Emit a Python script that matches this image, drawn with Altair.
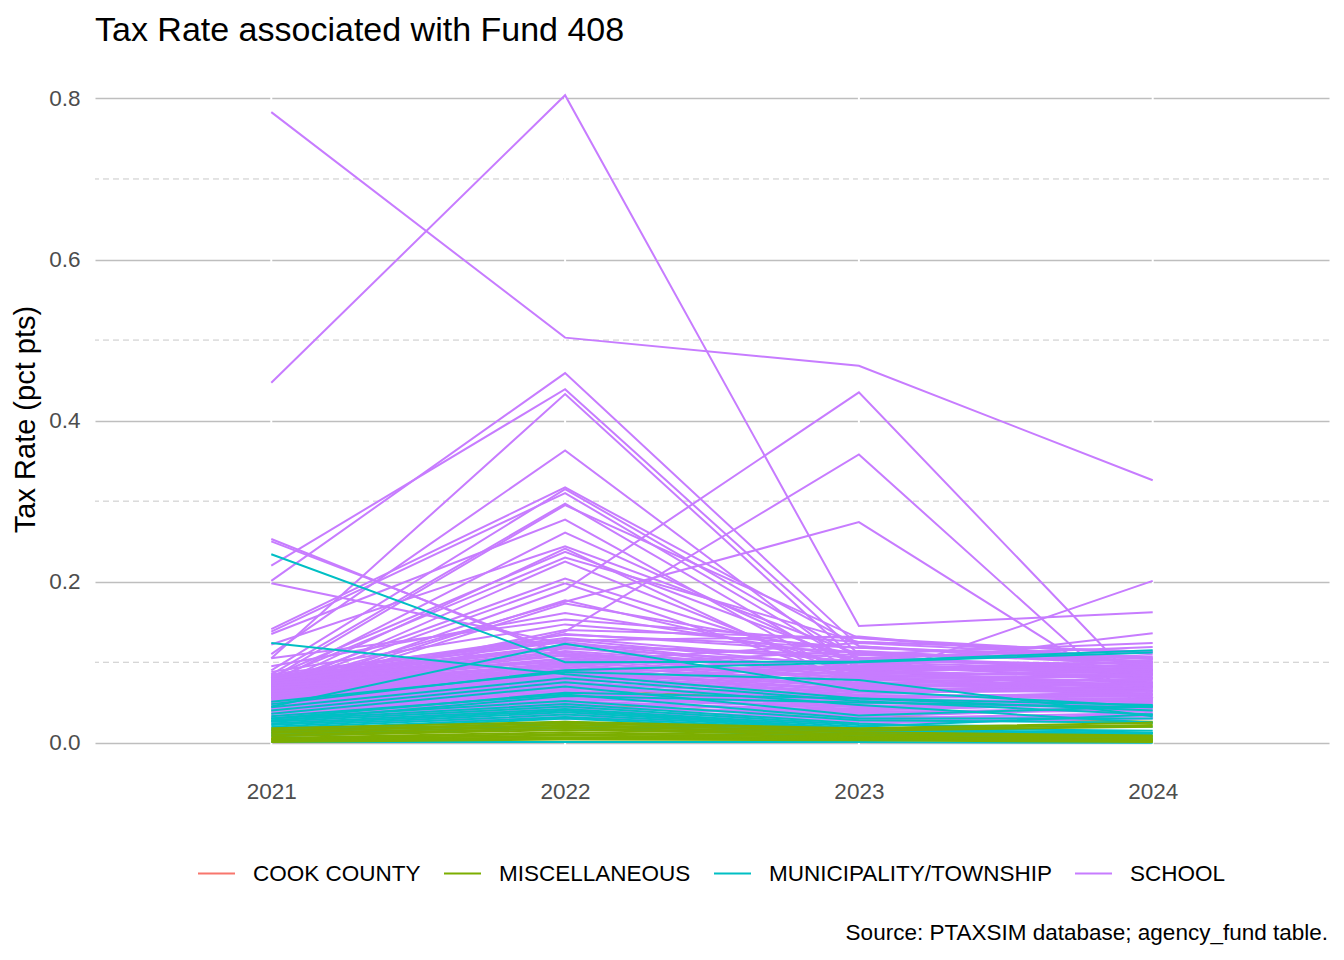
import altair as alt
import pandas as pd

YEARS = ["2021", "2022", "2023", "2024"]
AGENCY_TYPES = ["COOK COUNTY", "MISCELLANEOUS", "MUNICIPALITY/TOWNSHIP", "SCHOOL"]
COLORS = ["#F8766D", "#7CAE00", "#00BFC4", "#C77CFF"]

# one row per agency: tax rate in 2021, 2022, 2023, 2024
COOK_COUNTY = [
    [0.004, 0.006, 0.005, 0.004],
]

MISCELLANEOUS = [
    [0.018, 0.026, 0.018, 0.025],
    [0.016, 0.024, 0.017, 0.022],
    [0.014, 0.022, 0.015, 0.020],
    [0.012, 0.020, 0.013, 0.009],
    [0.010, 0.018, 0.011, 0.008],
    [0.008, 0.016, 0.010, 0.007],
    [0.006, 0.013, 0.008, 0.005],
    [0.005, 0.011, 0.007, 0.004],
    [0.004, 0.009, 0.006, 0.003],
    [0.003, 0.007, 0.005, 0.003],
    [0.002, 0.005, 0.004, 0.002],
    [0.001, 0.004, 0.003, 0.001],
    [0.056, 0.068, 0.050, 0.044],
    [0.040, 0.048, 0.033, 0.026],
]

MUNICIPALITY = [
    [0.234, 0.100, 0.101, 0.115],
    [0.124, 0.085, 0.055, 0.040],
    [0.045, 0.123, 0.065, 0.045],
    [0.051, 0.088, 0.078, 0.033],
    [0.048, 0.090, 0.100, 0.112],
    [0.044, 0.080, 0.052, 0.035],
    [0.040, 0.075, 0.047, 0.025],
    [0.036, 0.070, 0.034, 0.045],
    [0.033, 0.060, 0.030, 0.030],
    [0.030, 0.052, 0.028, 0.025],
    [0.028, 0.048, 0.024, 0.012],
    [0.026, 0.045, 0.022, 0.020],
    [0.024, 0.042, 0.020, 0.035],
    [0.022, 0.040, 0.018, 0.015],
    [0.020, 0.038, 0.017, 0.012],
    [0.018, 0.035, 0.016, 0.010],
    [0.016, 0.032, 0.015, 0.008],
    [0.014, 0.030, 0.013, 0.012],
    [0.012, 0.026, 0.012, 0.006],
    [0.010, 0.022, 0.010, 0.004],
    [0.008, 0.018, 0.008, 0.002],
    [0.001, 0.001, 0.001, 0.000],
    [0.030, 0.062, 0.055, 0.047],
    [0.027, 0.058, 0.050, 0.044],
]

SCHOOL = [
    [0.783, 0.503, 0.468, 0.326],
    [0.447, 0.804, 0.145, 0.162],
    [0.201, 0.459, 0.120, 0.095],
    [0.220, 0.439, 0.110, 0.085],
    [0.105, 0.433, 0.100, 0.075],
    [0.110, 0.363, 0.090, 0.070],
    [0.253, 0.107, 0.080, 0.060],
    [0.250, 0.110, 0.090, 0.065],
    [0.198, 0.123, 0.085, 0.070],
    [0.141, 0.317, 0.120, 0.100],
    [0.090, 0.315, 0.105, 0.090],
    [0.138, 0.310, 0.095, 0.080],
    [0.085, 0.297, 0.085, 0.075],
    [0.080, 0.295, 0.130, 0.110],
    [0.135, 0.277, 0.075, 0.065],
    [0.075, 0.261, 0.095, 0.085],
    [0.122, 0.244, 0.110, 0.105],
    [0.070, 0.241, 0.070, 0.060],
    [0.082, 0.237, 0.100, 0.090],
    [0.078, 0.230, 0.125, 0.113],
    [0.065, 0.225, 0.080, 0.070],
    [0.060, 0.190, 0.435, 0.055],
    [0.050, 0.138, 0.358, 0.030],
    [0.070, 0.175, 0.274, 0.045],
    [0.072, 0.204, 0.090, 0.080],
    [0.068, 0.198, 0.076, 0.201],
    [0.062, 0.177, 0.093, 0.136],
    [0.058, 0.173, 0.110, 0.124],
    [0.095, 0.161, 0.105, 0.119],
    [0.105, 0.153, 0.125, 0.113],
    [0.088, 0.147, 0.118, 0.107],
    [0.066, 0.140, 0.130, 0.104],
    [0.073, 0.135, 0.112, 0.100],
    [0.085, 0.130, 0.101, 0.098],
    [0.083, 0.128, 0.094, 0.092],
    [0.081, 0.125, 0.088, 0.096],
    [0.080, 0.121, 0.106, 0.094],
    [0.079, 0.119, 0.082, 0.090],
    [0.078, 0.117, 0.098, 0.087],
    [0.077, 0.114, 0.090, 0.101],
    [0.076, 0.112, 0.086, 0.085],
    [0.075, 0.110, 0.079, 0.083],
    [0.074, 0.108, 0.092, 0.088],
    [0.073, 0.105, 0.084, 0.081],
    [0.072, 0.104, 0.077, 0.079],
    [0.071, 0.102, 0.073, 0.086],
    [0.070, 0.099, 0.081, 0.077],
    [0.069, 0.098, 0.070, 0.075],
    [0.068, 0.096, 0.075, 0.073],
    [0.067, 0.094, 0.068, 0.080],
    [0.066, 0.092, 0.072, 0.071],
    [0.065, 0.090, 0.066, 0.069],
    [0.064, 0.088, 0.064, 0.074],
    [0.063, 0.086, 0.071, 0.067],
    [0.062, 0.085, 0.062, 0.065],
    [0.061, 0.083, 0.060, 0.072],
    [0.060, 0.081, 0.067, 0.063],
    [0.059, 0.080, 0.058, 0.061],
    [0.058, 0.078, 0.063, 0.068],
    [0.057, 0.076, 0.056, 0.059],
    [0.056, 0.074, 0.059, 0.057],
    [0.055, 0.072, 0.054, 0.064],
    [0.054, 0.070, 0.057, 0.055],
    [0.053, 0.069, 0.052, 0.053],
    [0.052, 0.067, 0.055, 0.060],
    [0.051, 0.065, 0.050, 0.051],
    [0.050, 0.063, 0.048, 0.056],
    [0.049, 0.061, 0.046, 0.049],
    [0.048, 0.060, 0.053, 0.052],
    [0.047, 0.058, 0.044, 0.047],
    [0.046, 0.056, 0.042, 0.054],
    [0.045, 0.054, 0.045, 0.045],
    [0.044, 0.052, 0.040, 0.050],
    [0.043, 0.050, 0.038, 0.043],
    [0.042, 0.048, 0.041, 0.048],
    [0.040, 0.046, 0.036, 0.041],
    [0.038, 0.044, 0.034, 0.046],
    [0.036, 0.042, 0.039, 0.039],
    [0.034, 0.040, 0.032, 0.044],
    [0.032, 0.038, 0.030, 0.037],
    [0.030, 0.035, 0.028, 0.035],
    [0.027, 0.032, 0.026, 0.033],
    [0.024, 0.030, 0.024, 0.030],
    [0.084, 0.100, 0.124, 0.106],
    [0.082, 0.134, 0.118, 0.104],
    [0.079, 0.127, 0.132, 0.099],
    [0.076, 0.121, 0.109, 0.102],
    [0.074, 0.096, 0.114, 0.097],
    [0.071, 0.090, 0.103, 0.093],
    [0.068, 0.087, 0.096, 0.089],
    [0.064, 0.080, 0.094, 0.091],
    [0.061, 0.078, 0.087, 0.084],
]

Y_TICKS = [0.0, 0.2, 0.4, 0.6, 0.8]
Y_MINOR = [0.1, 0.3, 0.5, 0.7]
TITLE = "Tax Rate associated with Fund 408"
Y_TITLE = "Tax Rate (pct pts)"
CAPTION = "Source: PTAXSIM database; agency_fund table."
FONT = "Liberation Sans"

# draw order: later lines sit on top (the few higher misc lines hide under school)
misc_high = [r for r in MISCELLANEOUS if max(r) > 0.035]
misc_low = [r for r in MISCELLANEOUS if max(r) <= 0.035]
groups = [
    ("COOK COUNTY", COOK_COUNTY),
    ("MISCELLANEOUS", misc_high),
    ("SCHOOL", SCHOOL),
    ("MUNICIPALITY/TOWNSHIP", MUNICIPALITY),
    ("MISCELLANEOUS", misc_low),
]
rows = []
for g, (agency_type, lines) in enumerate(groups):
    for i, rates in enumerate(lines):
        for year, rate in zip(YEARS, rates):
            rows.append({"agency": f"{g}-{i:03d}", "type": agency_type,
                         "year": year, "rate": rate})
rates_df = pd.DataFrame(rows)

x_enc = alt.X(
    "year:O",
    scale=alt.Scale(type="point", padding=0.6, domain=YEARS),
    axis=alt.Axis(title=None, labelAngle=0, labelFontSize=22.5, labelColor="#4D4D4D",
                  labelFont=FONT, labelPadding=5, domain=False, ticks=False, grid=False),
)
y_scale = alt.Scale(domain=[-0.04, 0.844], nice=False, zero=False)

minor_grid = (
    alt.Chart(pd.DataFrame({"v": Y_MINOR}))
    .mark_rule(color="#C8C8C8", strokeWidth=1, strokeDash=[6, 4])
    .encode(y=alt.Y("v:Q", scale=y_scale))
)

year_gaps = (
    alt.Chart(pd.DataFrame({"year": YEARS}))
    .mark_rule(color="white", strokeWidth=2)
    .encode(x=x_enc)
)

lines = (
    alt.Chart(rates_df)
    .mark_line(strokeWidth=2)
    .encode(
        x=x_enc,
        y=alt.Y(
            "rate:Q",
            scale=y_scale,
            axis=alt.Axis(values=Y_TICKS, format=".1f", title=Y_TITLE, titleFontSize=29,
                          titleFont=FONT, titleFontWeight="normal", titleColor="black",
                          titlePadding=8, labelFontSize=22.5, labelFont=FONT,
                          labelColor="#4D4D4D", labelPadding=15, domain=False, ticks=False,
                          gridColor="#BEBEBE", gridWidth=1.5),
        ),
        color=alt.Color(
            "type:N",
            scale=alt.Scale(domain=AGENCY_TYPES, range=COLORS),
            legend=alt.Legend(title=None, orient="none", direction="horizontal",
                              legendX=102, legendY=791, padding=0, symbolType="stroke",
                              symbolSize=1369, symbolStrokeWidth=2, labelFontSize=22.5,
                              labelFont=FONT, labelColor="black", labelOffset=17,
                              labelLimit=0, columnPadding=19),
        ),
        detail="agency:N",
    )
)

caption = (
    alt.Chart(pd.DataFrame({"caption": [CAPTION]}))
    .mark_text(align="right", baseline="middle", fontSize=22.5, font=FONT, color="black")
    .encode(x=alt.value(1233), y=alt.value(870), text="caption:N")
)

chart = (
    alt.layer(minor_grid, year_gaps, lines, caption)
    .properties(
        width=1234,
        height=712,
        autosize=alt.AutoSizeParams(type="none"),
        padding={"left": 87, "top": 55, "right": 7, "bottom": 172},
        title=alt.TitleParams(TITLE, anchor="start", frame="group", fontSize=34,
                              font=FONT, fontWeight="normal", color="black", offset=14),
    )
    .configure_view(stroke=None)
)

chart.save("out.html", embed_options={"renderer": "svg", "actions": False})
